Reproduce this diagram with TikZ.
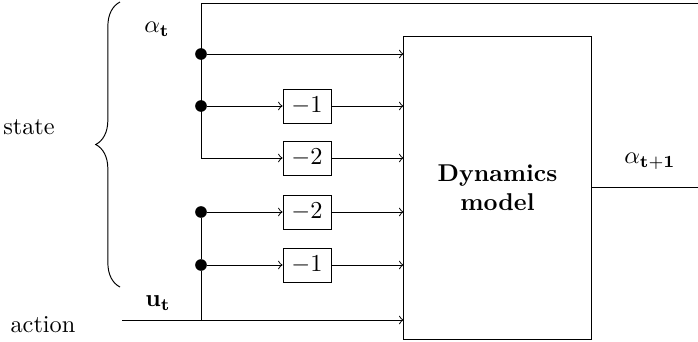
\documentclass[tikz,border=0pt]{standalone}
\usetikzlibrary{decorations.pathreplacing}
\begin{document}
\begin{tikzpicture}[x=0.4115pt,y=-0.4115pt,
  dotnode/.style={circle,fill=black,inner sep=0pt,minimum size=4.8pt},
  delaybox/.style={draw,minimum width=19.75pt,minimum height=14pt,inner sep=0pt},
  arr/.style={->},
  lbl/.style={inner sep=0pt}]
\useasboundingbox (0,0) rectangle (698,341);
% main block
\node[draw,minimum width=77pt,minimum height=124.7pt,inner sep=0pt,align=center,font=\bfseries] (dyn) at (497.5,187.5) {Dynamics\\model};
% junctions
\coordinate (tl) at (201,3);
\coordinate (tr) at (698.3,3);
\coordinate (o) at (698.3,187.5);
\node[dotnode] (d1) at (201,54) {};
\node[dotnode] (d2) at (201,106) {};
\coordinate (c3) at (201,158);
\node[dotnode] (d4) at (201,212) {};
\node[dotnode] (d5) at (201,265) {};
\coordinate (c6) at (201,320);
\coordinate (a0) at (122,320);
% delay boxes
\node[delaybox] (b2) at (307,106) {$-1$};
\node[delaybox] (b3) at (307,158) {$-2$};
\node[delaybox] (b4) at (307,212) {$-2$};
\node[delaybox] (b5) at (307,265) {$-1$};
% labels
\node[lbl] (lat) at (157,29) {$\alpha_{\mathbf{t}}$};
\node[lbl] (lut) at (158,303) {$\mathbf{u}_{\mathbf{t}}$};
\node[lbl] (lat1) at (650,161) {$\alpha_{\mathbf{t+1}}$};
\node[lbl] (state) at (29,127) {state};
\node[lbl] (action) at (43,325) {action};
% brace
\draw[decorate,decoration={brace,amplitude=10pt}] (120,287) -- (120,2);
% feedback line
\draw (dyn.east |- o) -- (o) -- (tr) -- (tl) -- (c3);
% state lines
\draw[arr] (d1) -- (d1 -| dyn.west);
\draw[arr] (d2) -- (b2);
\draw[arr] (b2) -- (b2 -| dyn.west);
\draw[arr] (c3) -- (b3);
\draw[arr] (b3) -- (b3 -| dyn.west);
% action lines
\draw (d4) -- (d5) -- (c6);
\draw[arr] (d4) -- (b4);
\draw[arr] (b4) -- (b4 -| dyn.west);
\draw[arr] (d5) -- (b5);
\draw[arr] (b5) -- (b5 -| dyn.west);
\draw[arr] (a0) -- (a0 -| dyn.west);
\end{tikzpicture}
\end{document}
